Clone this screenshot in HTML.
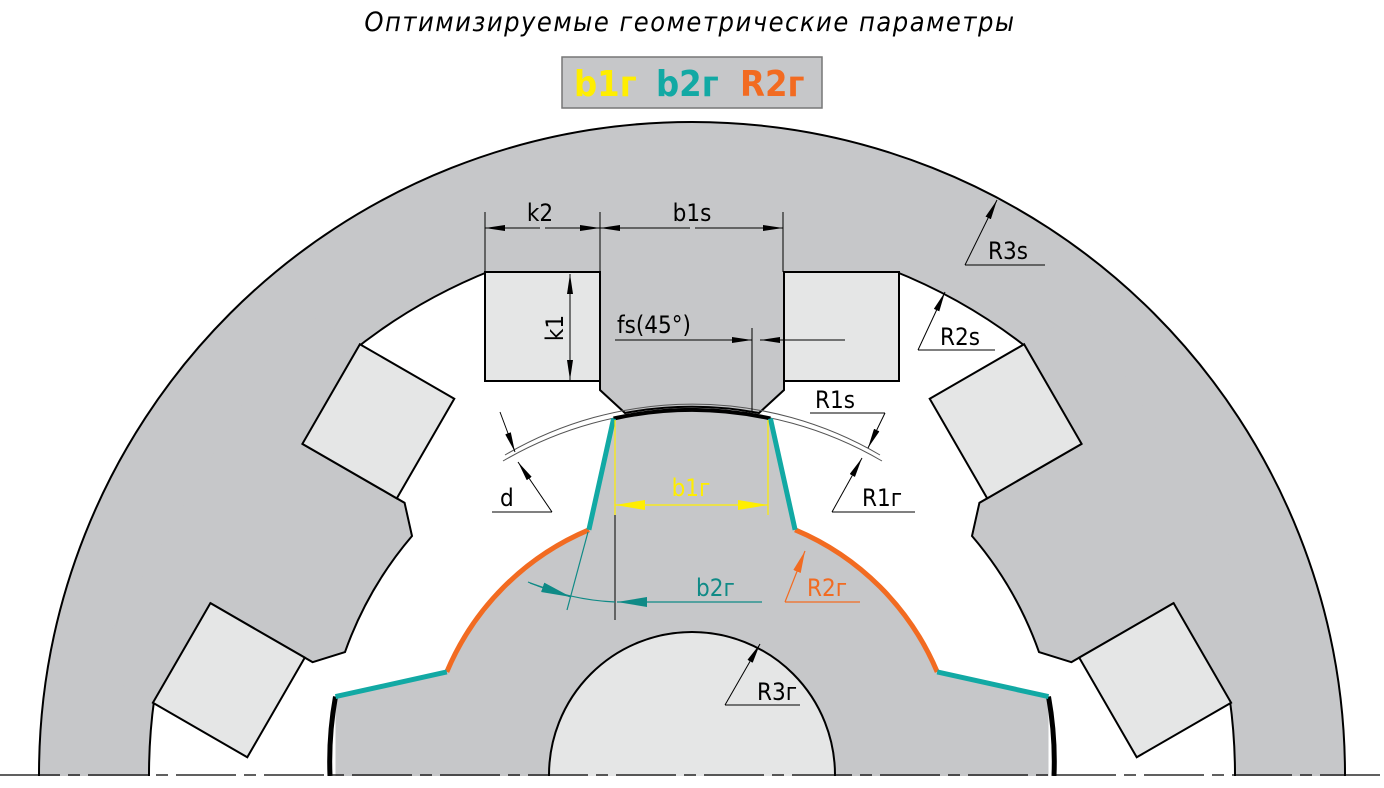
<!DOCTYPE html>
<html><head><meta charset="utf-8"><style>
html,body{margin:0;padding:0;background:#fff;width:1384px;height:788px;overflow:hidden;}
svg{display:block;}
text{font-family:"DejaVu Sans Condensed","Liberation Sans",sans-serif;}
</style></head><body>
<svg width="1384" height="788" viewBox="0 0 1384 788" xmlns="http://www.w3.org/2000/svg" overflow="hidden">
<defs>
<marker id="a" viewBox="0 0 20 6" refX="20" refY="3" markerWidth="20" markerHeight="6" markerUnits="userSpaceOnUse" orient="auto"><path d="M0,0 L20,3 L0,6 z" fill="#000"/></marker>
<marker id="ay" viewBox="0 0 30 10" refX="30" refY="5" markerWidth="30" markerHeight="10" markerUnits="userSpaceOnUse" orient="auto"><path d="M0,0 L30,5 L0,10 z" fill="#ffee00"/></marker>
<marker id="at" viewBox="0 0 30 10" refX="30" refY="5" markerWidth="30" markerHeight="10" markerUnits="userSpaceOnUse" orient="auto"><path d="M0,0 L30,5 L0,10 z" fill="#0f8a86"/></marker>
<marker id="ao" viewBox="0 0 22 8" refX="22" refY="4" markerWidth="22" markerHeight="8" markerUnits="userSpaceOnUse" orient="auto"><path d="M0,0 L22,4 L0,8 z" fill="#f26b21"/></marker>
<g id="pole">
<path d="M485,200 L485,272 L600,272 L600,390 L625,413 A368,368 0 0 1 759,413 L784,390 L784,272 L899,272 L899,200 Z" fill="#c6c7c9"/>
<path d="M600,272 L600,390 L625,413 A368,368 0 0 1 759,413 L784,390 L784,272" fill="none" stroke="#000" stroke-width="2"/>
<rect x="485" y="272" width="115" height="109" fill="#e5e6e6" stroke="#000" stroke-width="2"/>
<rect x="784" y="272" width="115" height="109" fill="#e5e6e6" stroke="#000" stroke-width="2"/>
</g>
</defs>
<!-- title -->
<text x="690" y="31" font-size="27" font-style="italic" text-anchor="middle" letter-spacing="1.5">Оптимизируемые геометрические параметры</text>
<rect x="562" y="57" width="260" height="51" fill="#c6c7c9" stroke="#777" stroke-width="1.5"/>
<text x="574" y="96" font-size="36" font-weight="bold" fill="#ffee00">b1г</text>
<text x="656" y="96" font-size="36" font-weight="bold" fill="#12a9a4">b2г</text>
<text x="740" y="96" font-size="36" font-weight="bold" fill="#f26b21">R2г</text>
<!-- stator -->
<circle cx="692" cy="775" r="653" fill="#c6c7c9" stroke="#000" stroke-width="2"/>
<circle cx="692" cy="775" r="543" fill="#fff" stroke="#000" stroke-width="2"/>
<use href="#pole"/>
<use href="#pole" transform="rotate(-60 692 775)"/>
<use href="#pole" transform="rotate(60 692 775)"/>
<!-- air gap arc -->
<path d="M505,455 A371,371 0 0 1 880,455" fill="none" stroke="#555" stroke-width="1"/>
<path d="M503,461 A376,376 0 0 1 882,461" fill="none" stroke="#555" stroke-width="1"/>
<!-- rotor -->
<path d="M335.5,790 L335.5,696.6 L446.8,671.9 A266,266 0 0 1 588.9,529.8 L613.6,418.5 A365,365 0 0 1 770.4,418.5 L795.1,529.8 A266,266 0 0 1 937.2,671.9 L1048.5,696.6 L1048.5,790 Z" fill="#c6c7c9"/>
<path d="M613.6,418.5 A365,365 0 0 1 770.4,418.5" fill="none" stroke="#000" stroke-width="4"/>
<path d="M330,776 A365,365 0 0 1 335.5,696.6" fill="none" stroke="#000" stroke-width="5"/>
<path d="M1048.5,696.6 A365,365 0 0 1 1054,776" fill="none" stroke="#000" stroke-width="5"/>
<path d="M446.8,671.9 A266,266 0 0 1 588.9,529.8 M795.1,529.8 A266,266 0 0 1 937.2,671.9" fill="none" stroke="#f26b21" stroke-width="5"/>
<path d="M335.5,696.6 L446.8,671.9 M588.9,529.8 L613.6,418.5 M770.4,418.5 L795.1,529.8 M937.2,671.9 L1048.5,696.6" fill="none" stroke="#12a9a4" stroke-width="5"/>
<circle cx="692" cy="775" r="143" fill="#e5e6e6" stroke="#000" stroke-width="2"/>
<!-- bottom clip + axis -->
<rect x="0" y="776" width="1384" height="12" fill="#fff"/>
<line x1="0" y1="775" x2="1384" y2="775" stroke="#000" stroke-width="1.2" stroke-dasharray="60,8,12,8"/>
<!-- dimensions k2/b1s -->
<g stroke="#000" stroke-width="1" fill="none">
<line x1="485" y1="212" x2="485" y2="272"/><line x1="600" y1="212" x2="600" y2="272"/><line x1="783" y1="212" x2="783" y2="272"/>
<line x1="540" y1="228" x2="485" y2="228" marker-end="url(#a)"/><line x1="545" y1="228" x2="600" y2="228" marker-end="url(#a)"/>
<line x1="690" y1="228" x2="600" y2="228" marker-end="url(#a)"/><line x1="695" y1="228" x2="783" y2="228" marker-end="url(#a)"/>
<line x1="570" y1="330" x2="570" y2="274" marker-end="url(#a)"/><line x1="570" y1="330" x2="570" y2="380" marker-end="url(#a)"/>
<line x1="615" y1="340" x2="752" y2="340" marker-end="url(#a)"/><line x1="845" y1="340" x2="760" y2="340" marker-end="url(#a)"/>
<line x1="752" y1="328" x2="752" y2="412"/>
<line x1="965" y1="265" x2="997" y2="200" marker-end="url(#a)"/><line x1="965" y1="265" x2="1045" y2="265"/>
<line x1="918" y1="350" x2="945" y2="292" marker-end="url(#a)"/><line x1="918" y1="350" x2="995" y2="350"/>
<line x1="810" y1="413" x2="885" y2="413"/><line x1="885" y1="413" x2="868" y2="448" marker-end="url(#a)"/>
<line x1="832" y1="512" x2="915" y2="512"/><line x1="832" y1="512" x2="862" y2="458" marker-end="url(#a)"/>
<line x1="492" y1="512" x2="552" y2="512"/><line x1="552" y1="512" x2="518" y2="462" marker-end="url(#a)"/>
<line x1="500" y1="412" x2="515" y2="452" marker-end="url(#a)"/>
<line x1="615" y1="510" x2="615" y2="620"/>
<line x1="725" y1="705" x2="800" y2="705"/><line x1="725" y1="705" x2="760" y2="644" marker-end="url(#a)"/>
</g>
<text x="540" y="221" font-size="24" text-anchor="middle">k2</text>
<text x="692" y="221" font-size="24" text-anchor="middle">b1s</text>
<text x="563" y="328" font-size="24" text-anchor="middle" transform="rotate(-90 563 328)">k1</text>
<text x="617" y="333" font-size="24">fs(45°)</text>
<text x="988" y="259" font-size="24">R3s</text>
<text x="940" y="345" font-size="24">R2s</text>
<text x="815" y="408" font-size="24">R1s</text>
<text x="862" y="506" font-size="24">R1г</text>
<text x="500" y="506" font-size="24">d</text>
<text x="757" y="700" font-size="24">R3г</text>
<!-- b1r -->
<g stroke="#ffee00" stroke-width="1.2" fill="none">
<line x1="615" y1="420" x2="615" y2="515"/><line x1="768" y1="420" x2="768" y2="515"/>
<line x1="690" y1="505" x2="615" y2="505" marker-end="url(#ay)"/><line x1="690" y1="505" x2="768" y2="505" marker-end="url(#ay)"/>
</g>
<text x="691" y="496" font-size="24" fill="#ffee00" text-anchor="middle">b1г</text>
<!-- b2r -->
<g stroke="#0f8a86" stroke-width="1.2" fill="none">
<line x1="588" y1="532" x2="567" y2="610"/>
<line x1="762" y1="602" x2="617" y2="602" marker-end="url(#at)"/>
<path d="M528,582 Q570,600 615,602"/>
<line x1="530" y1="583" x2="571" y2="597" marker-end="url(#at)"/>
</g>
<text x="696" y="596" font-size="24" fill="#0f8a86">b2г</text>
<!-- R2r -->
<g stroke="#f26b21" stroke-width="1.2" fill="none">
<line x1="785" y1="602" x2="860" y2="602"/><line x1="785" y1="602" x2="805" y2="551" marker-end="url(#ao)"/>
</g>
<text x="807" y="596" font-size="24" fill="#f26b21">R2г</text>
</svg>
</body></html>
